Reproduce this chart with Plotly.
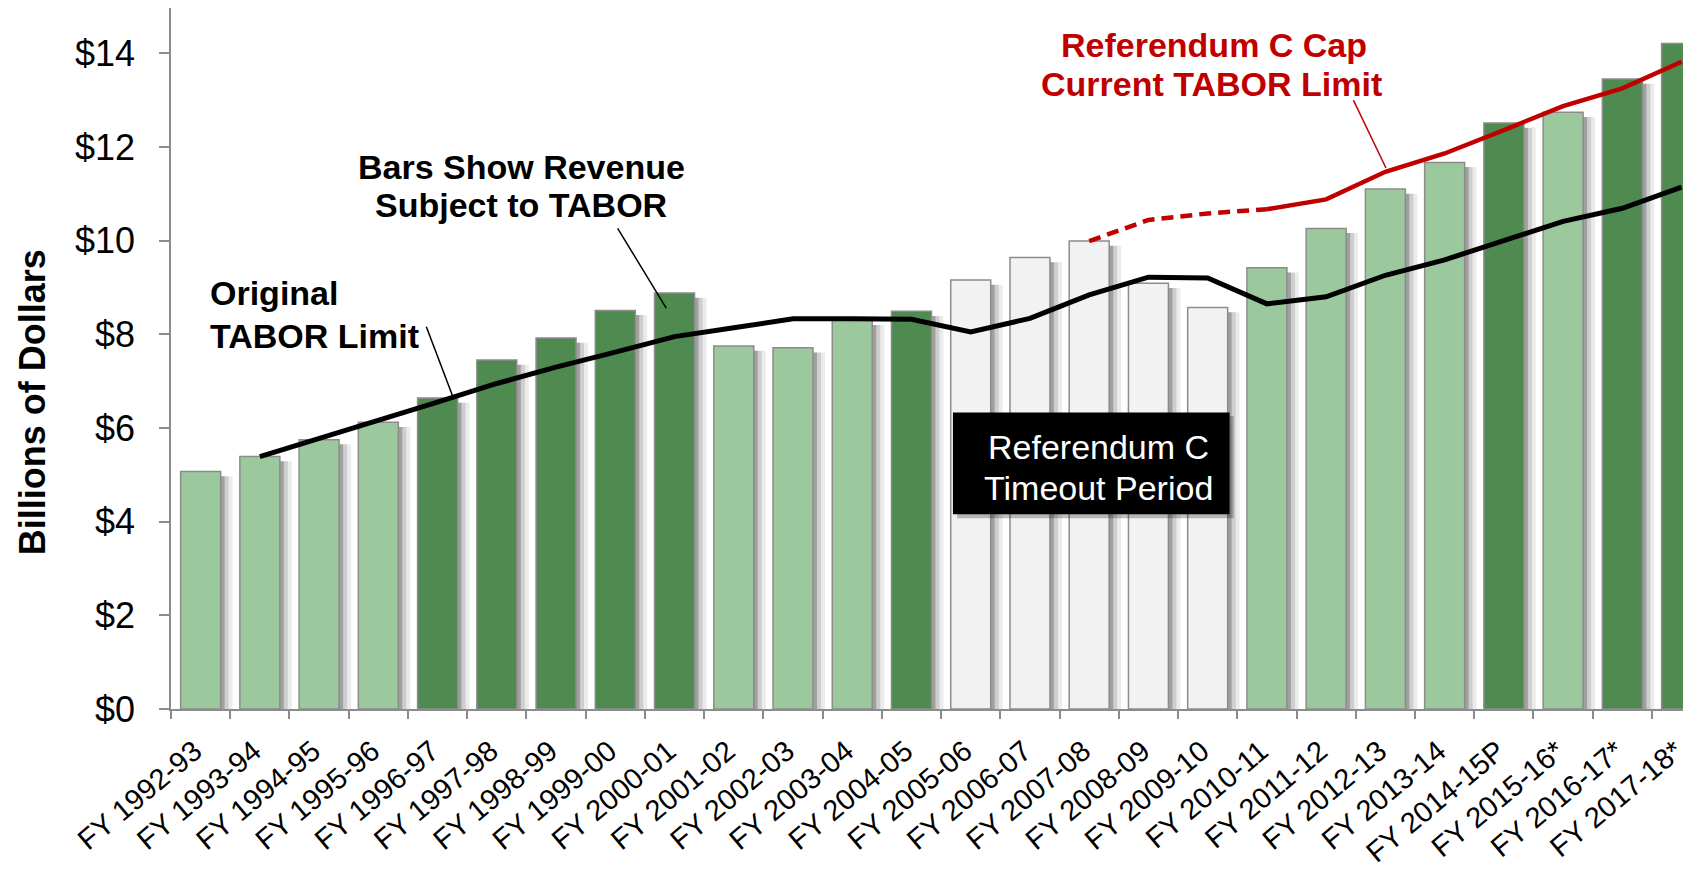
import plotly.graph_objects as go

# ---------------- data ----------------
categories = [
    "FY 1992-93", "FY 1993-94", "FY 1994-95", "FY 1995-96", "FY 1996-97",
    "FY 1997-98", "FY 1998-99", "FY 1999-00", "FY 2000-01", "FY 2001-02",
    "FY 2002-03", "FY 2003-04", "FY 2004-05", "FY 2005-06", "FY 2006-07",
    "FY 2007-08", "FY 2008-09", "FY 2009-10", "FY 2010-11", "FY 2011-12",
    "FY 2012-13", "FY 2013-14", "FY 2014-15P", "FY 2015-16*", "FY 2016-17*",
    "FY 2017-18*",
]
revenue = [5.07, 5.39, 5.75, 6.12, 6.64, 7.45, 7.92, 8.51, 8.88, 7.75,
           7.71, 8.30, 8.49, 9.16, 9.64, 9.99, 9.09, 8.57, 9.42, 10.26,
           11.10, 11.67, 12.51, 12.74, 13.45, 14.21]
bar_status = (["below"] * 4 + ["above"] * 5 + ["below"] * 3 + ["above"]
              + ["timeout"] * 5 + ["below"] * 4 + ["above"] + ["below"]
              + ["above"] * 2)
original_limit = [None, 5.39, 5.77, 6.16, 6.55, 6.95, 7.30, 7.62, 7.95, 8.14,
                  8.33, 8.33, 8.32, 8.05, 8.34, 8.84, 9.22, 9.20, 8.65, 8.80,
                  9.26, 9.59, 10.00, 10.41, 10.69, 11.14]
refc_timeout_cap = [None] * 15 + [9.99, 10.44, 10.58, 10.67] + [None] * 7
refc_cap = [None] * 18 + [10.67, 10.88, 11.47, 11.86, 12.36, 12.87, 13.25, 13.82]
y_ticks = [0, 2, 4, 6, 8, 10, 12, 14]
y_tick_labels = ["$0", "$2", "$4", "$6", "$8", "$10", "$12", "$14"]

# ---------------- style ----------------
FONT = "Liberation Sans, Arial, sans-serif"
status_colors = {"below": "#9CC89E", "above": "#4F8A50", "timeout": "#F2F2F2"}
bar_colors = [status_colors[s] for s in bar_status]
BAR_W = 0.675
PX_PER_CAT = 59.25

fig = go.Figure()

# soft drop shadow to the right of each bar
for shift_px, alpha in [(12, 0.08), (8, 0.12), (4, 0.22)]:
    fig.add_trace(go.Bar(
        x=categories, y=[v - 0.1 for v in revenue],
        width=BAR_W, offset=-BAR_W / 2 + shift_px / PX_PER_CAT,
        marker=dict(color=f"rgba(0,0,0,{alpha})", line=dict(width=0)),
        hoverinfo="skip", showlegend=False,
    ))

fig.add_trace(go.Bar(
    x=categories, y=revenue, width=BAR_W, offset=-BAR_W / 2,
    marker=dict(color=bar_colors, line=dict(color="#8C8C8C", width=1.5)),
    name="Revenue Subject to TABOR", showlegend=False,
))

fig.add_trace(go.Scatter(
    x=categories, y=original_limit, mode="lines",
    line=dict(color="black", width=5), name="Original TABOR Limit",
    showlegend=False,
))
fig.add_trace(go.Scatter(
    x=categories, y=refc_timeout_cap, mode="lines",
    line=dict(color="#C00000", width=4.5, dash="12px,7px"),
    name="Referendum C Timeout", showlegend=False,
))
fig.add_trace(go.Scatter(
    x=categories, y=refc_cap, mode="lines",
    line=dict(color="#C00000", width=4.5), name="Referendum C Cap",
    showlegend=False,
))

# timeout period box (shadow + box)
fig.add_shape(type="rect", xref="x", yref="y", x0=12.77, x1=17.44, y0=6.25, y1=4.07,
              fillcolor="rgba(0,0,0,0.25)", line=dict(width=0), layer="above")
fig.add_shape(type="rect", xref="x", yref="y", x0=12.70, x1=17.37, y0=6.33, y1=4.16,
              fillcolor="black", line=dict(width=0), layer="above")

ann_font_b = dict(family=FONT, size=34, color="black")
red_font = dict(family=FONT, size=34, color="#C00000")
white_font = dict(family=FONT, size=34, color="white")
annotations = [
    dict(x=0.13, y=8.88, text="<b>Original</b>", xanchor="left", yanchor="middle"),
    dict(x=0.13, y=7.97, text="<b>TABOR Limit</b>", xanchor="left", yanchor="middle"),
    dict(x=5.41, y=11.58, text="<b>Bars Show Revenue</b>", xanchor="center", yanchor="middle"),
    dict(x=5.41, y=10.76, text="<b>Subject to TABOR</b>", xanchor="center", yanchor="middle"),
    dict(x=17.1, y=14.18, text="<b>Referendum C Cap</b>", xanchor="center", yanchor="middle",
         font=red_font),
    dict(x=17.07, y=13.34, text="<b>Current TABOR Limit</b>", xanchor="center", yanchor="middle",
         font=red_font),
    dict(x=15.15, y=5.60, text="Referendum C", xanchor="center", yanchor="middle",
         font=white_font),
    dict(x=15.15, y=4.72, text="Timeout Period", xanchor="center", yanchor="middle",
         font=white_font),
]
for a in annotations:
    a.setdefault("font", ann_font_b)
    a.update(xref="x", yref="y", showarrow=False)
    fig.add_annotation(**a)

# leader lines
for (x0, y0, x1, y1, col) in [(3.81, 8.16, 4.26, 6.66, "black"),
                              (7.04, 10.26, 7.86, 8.56, "black"),
                              (19.46, 13.0, 20.01, 11.55, "#C00000")]:
    fig.add_shape(type="line", xref="x", yref="y", x0=x0, y0=y0, x1=x1, y1=y1,
                  line=dict(color=col, width=1.5))

# y-axis title (as annotation, offset like the original)
fig.add_annotation(xref="paper", yref="y", x=-0.0909, y=6.55,
                   text="<b>Billions of Dollars</b>", textangle=-90,
                   showarrow=False, xanchor="center", yanchor="middle",
                   font=dict(family=FONT, size=36, color="black"))

# the page adds an 8px body margin, so the plot area is placed 8px up/left
fig.update_layout(
    width=1691, height=871,
    margin=dict(l=163, r=0, t=0, b=170, autoexpand=False),
    paper_bgcolor="white", plot_bgcolor="white",
    barmode="overlay", bargap=0.3,
    font=dict(family=FONT, color="black"),
    showlegend=False,
)
fig.update_xaxes(
    type="category", range=[-0.5, 25.294], automargin=False,
    showline=True, linecolor="#8C8C8C", linewidth=1.5,
    ticks="outside", tickson="boundaries", ticklen=8, tickcolor="#8C8C8C", tickwidth=1.5,
    tickangle=-40, tickfont=dict(family=FONT, size=29, color="black"),
    ticklabelstandoff=12, ticklabelshift=-6,
    showgrid=False, zeroline=False,
)
fig.update_yaxes(
    range=[0, 14.966], tickvals=y_ticks, ticktext=y_tick_labels, automargin=False,
    showline=True, linecolor="#8C8C8C", linewidth=1.5,
    ticks="outside", ticklen=10, tickcolor="#8C8C8C", tickwidth=1.5,
    tickfont=dict(family=FONT, size=36, color="black"),
    ticklabelstandoff=17,
    showgrid=False, zeroline=False,
)

fig.write_html("out.html")
